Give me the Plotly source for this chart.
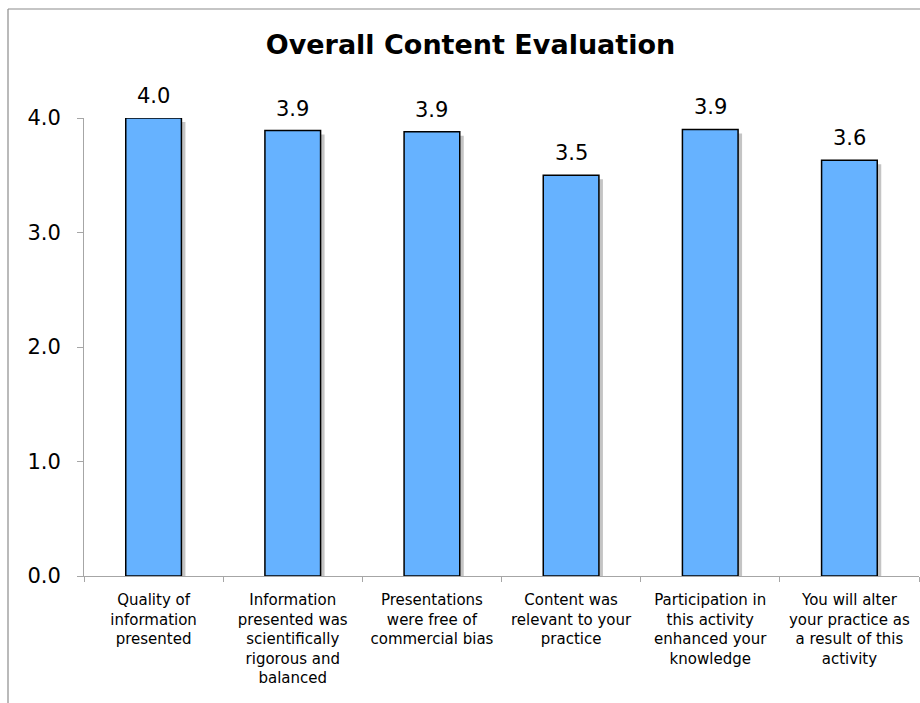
import plotly.graph_objects as go

categories = [
    "Quality of<br>information<br>presented",
    "Information<br>presented was<br>scientifically<br>rigorous and<br>balanced",
    "Presentations<br>were free of<br>commercial bias",
    "Content was<br>relevant to your<br>practice",
    "Participation in<br>this activity<br>enhanced your<br>knowledge",
    "You will alter<br>your practice as<br>a result of this<br>activity",
]
values = [4.00, 3.89, 3.88, 3.50, 3.90, 3.63]
y_ticks = [0, 1, 2, 3, 4]

W, H = 920, 703
ML, MR, MT, MB = 84, 1, 118, 127
pw, ph = W - ML - MR, H - MT - MB

bar_w = 0.40
shadow_dx = 4 / (pw / len(categories))
shadow_dy = 4 / (ph / 4.0)

fig = go.Figure()
fig.add_trace(go.Bar(
    x=categories, y=values, base=-shadow_dy,
    width=bar_w, offset=-bar_w / 2 + shadow_dx,
    marker=dict(color="#c4c4c4", line=dict(width=0)),
    hoverinfo="skip", showlegend=False,
))
fig.add_trace(go.Bar(
    x=categories, y=values,
    width=bar_w, offset=-bar_w / 2,
    marker=dict(color="rgb(102,178,255)", line=dict(color="black", width=1.5)),
    showlegend=False,
))

annotations = [
    dict(x=c, y=v, text=f"{v:.1f}", showarrow=False, xref="x", yref="y",
         yanchor="bottom", yshift=8,
         font=dict(family="DejaVu Sans", size=21, color="black"))
    for c, v in zip(categories, values)
]

# outer frame (top and left edges)
left_px, top_px = 8, 9
xl = (left_px - ML) / pw
yt = (H - MB - top_px) / ph
shapes = [
    dict(type="line", xref="paper", yref="paper", x0=xl, x1=1.1, y0=yt, y1=yt,
         line=dict(color="#8c8c8c", width=1.2)),
    dict(type="line", xref="paper", yref="paper", x0=xl, x1=xl, y0=yt, y1=-0.5,
         line=dict(color="#8c8c8c", width=1.2)),
]

fig.update_layout(
    width=W, height=H,
    margin=dict(l=ML, r=MR, t=MT, b=MB),
    paper_bgcolor="white", plot_bgcolor="white",
    barmode="overlay",
    title=dict(text="<b>Overall Content Evaluation</b>", x=(265 + 676) / 2 / W,
               xanchor="center", y=1 - 45 / H, yanchor="middle",
               font=dict(family="DejaVu Sans", size=27, color="black")),
    annotations=annotations,
    shapes=shapes,
    font=dict(family="DejaVu Sans", color="black"),
)
fig.update_yaxes(
    range=[0, 4], tickvals=y_ticks, tickformat=".1f",
    showgrid=False, zeroline=False,
    showline=True, linecolor="#a6a6a6", linewidth=1,
    ticks="outside", ticklen=6, tickcolor="#a6a6a6",
    ticklabelstandoff=12,
    tickfont=dict(family="DejaVu Sans", size=21, color="black"),
)
fig.update_xaxes(
    showgrid=False, showline=True, linecolor="#a6a6a6", linewidth=1,
    ticks="outside", ticklen=5, tickcolor="#a6a6a6", tickson="boundaries",
    tickangle=0, ticklabelstandoff=10,
    tickfont=dict(family="DejaVu Sans", size=15, color="black"),
)

fig.write_html(
    "out.html",
    config={"displayModeBar": False},
    post_script="document.body.style.margin='0';document.body.style.overflow='hidden';",
)
